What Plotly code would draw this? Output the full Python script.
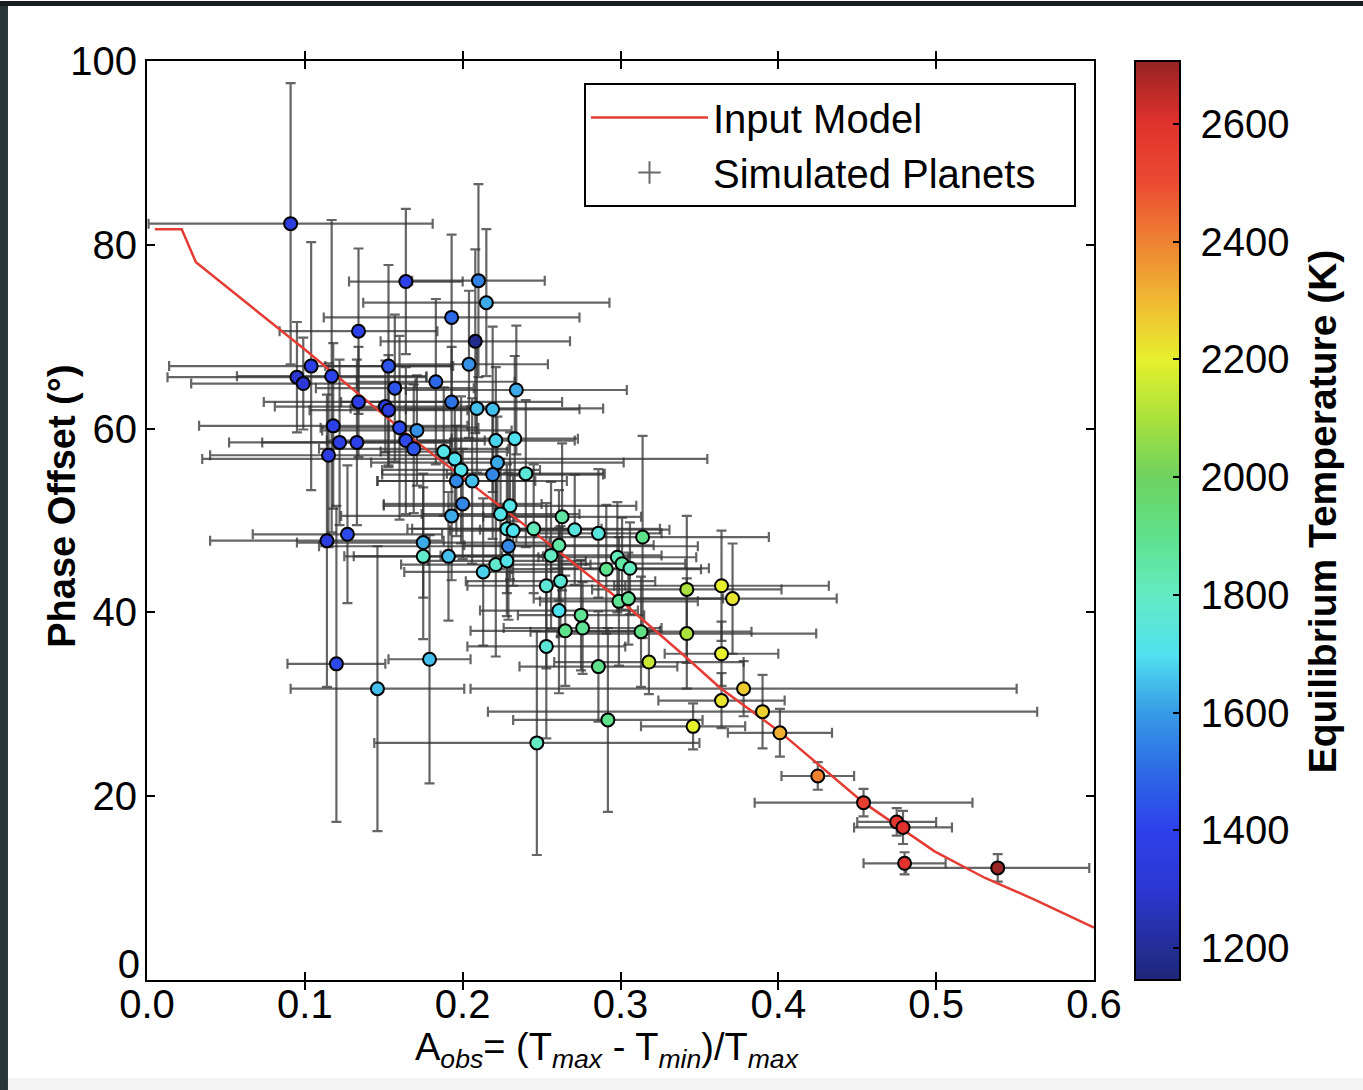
import plotly.graph_objects as go

# ---- data ----
a_obs = [0.091, 0.164, 0.210, 0.215, 0.193, 0.134, 0.208, 0.204, 0.104, 0.095,
         0.099, 0.117, 0.153, 0.157, 0.183, 0.234, 0.134, 0.151, 0.153, 0.193,
         0.209, 0.219, 0.118, 0.171, 0.160, 0.122, 0.133, 0.115, 0.164, 0.169,
         0.188, 0.195, 0.199, 0.196, 0.206, 0.221, 0.233, 0.222, 0.219, 0.240,
         0.200, 0.193, 0.230, 0.224, 0.228, 0.232, 0.229, 0.175, 0.175, 0.191,
         0.213, 0.221, 0.228, 0.245, 0.263, 0.271, 0.286, 0.314, 0.261, 0.256,
         0.298, 0.301, 0.306, 0.291, 0.253, 0.262, 0.342, 0.364, 0.299, 0.305,
         0.371, 0.261, 0.275, 0.276, 0.265, 0.313, 0.342, 0.253, 0.318, 0.364,
         0.286, 0.179, 0.120, 0.146, 0.378, 0.364, 0.390, 0.401, 0.292, 0.346,
         0.247, 0.425, 0.454, 0.475, 0.479, 0.480, 0.539, 0.114, 0.127]
phase = [82.3, 76.0, 76.1, 73.7, 72.1, 70.6, 69.5, 67.0, 66.8, 65.6,
         64.9, 65.7, 66.8, 64.4, 65.1, 64.2, 62.9, 62.4, 62.0, 62.9,
         62.2, 62.1, 60.3, 59.8, 60.1, 58.5, 58.5, 57.1, 58.7, 57.8,
         57.5, 56.7, 55.5, 54.3, 54.3, 58.7, 58.9, 56.3, 55.0, 55.1,
         51.8, 50.5, 51.6, 50.7, 49.1, 48.9, 47.2, 47.6, 46.1, 46.1,
         44.4, 45.2, 45.6, 49.1, 50.4, 49.0, 48.6, 48.2, 47.3, 46.2,
         46.0, 45.3, 44.8, 44.7, 42.9, 43.4, 42.5, 42.9, 41.2, 41.5,
         41.5, 40.2, 39.7, 38.3, 38.0, 37.9, 37.7, 36.3, 34.6, 35.5,
         34.1, 34.9, 34.4, 31.7, 31.7, 30.4, 29.2, 26.9, 28.3, 27.6,
         25.8, 22.2, 19.3, 17.2, 16.6, 12.7, 12.2, 47.8, 48.5]
a_err = [0.090, 0.036, 0.042, 0.078, 0.081, 0.050, 0.060, 0.050, 0.090, 0.082,
         0.071, 0.060, 0.040, 0.050, 0.050, 0.070, 0.060, 0.070, 0.050, 0.070,
         0.080, 0.055, 0.085, 0.060, 0.050, 0.070, 0.060, 0.075, 0.050, 0.060,
         0.040, 0.160, 0.050, 0.050, 0.060, 0.050, 0.040, 0.080, 0.070, 0.050,
         0.050, 0.070, 0.080, 0.050, 0.060, 0.040, 0.120, 0.080, 0.050, 0.060,
         0.050, 0.060, 0.050, 0.080, 0.050, 0.060, 0.040, 0.080, 0.060, 0.070,
         0.050, 0.040, 0.050, 0.060, 0.050, 0.060, 0.060, 0.068, 0.050, 0.060,
         0.066, 0.050, 0.040, 0.050, 0.060, 0.070, 0.082, 0.050, 0.060, 0.036,
         0.050, 0.026, 0.031, 0.055, 0.173, 0.040, 0.174, 0.033, 0.060, 0.033,
         0.103, 0.023, 0.069, 0.025, 0.031, 0.026, 0.058, 0.074, 0.060]
phase_err = [15.3, 7.9, 10.5, 8.0, 9.0, 9.0, 10.0, 8.0, 13.5, 6.0,
             5.0, 17.0, 11.0, 8.0, 9.0, 7.0, 6.0, 5.0, 6.0, 6.0,
             7.0, 9.0, 9.0, 6.0, 10.0, 9.0, 9.0, 10.0, 8.0, 7.0,
             7.0, 6.0, 8.0, 6.0, 9.0, 8.0, 9.0, 5.0, 7.0, 8.0,
             6.0, 7.0, 8.0, 6.0, 7.0, 6.0, 8.0, 6.0, 9.0, 7.0,
             8.0, 10.0, 6.0, 7.0, 8.0, 6.0, 7.0, 11.0, 6.0, 8.0,
             6.0, 5.0, 5.0, 7.0, 9.0, 6.0, 8.0, 6.0, 7.0, 5.0,
             6.0, 9.0, 6.0, 5.0, 6.0, 6.0, 6.0, 10.0, 3.5, 3.5,
             6.0, 13.5, 17.2, 15.5, 3.0, 3.0, 4.0, 2.6, 10.0, 2.5,
             12.2, 1.5, 1.5, 1.5, 1.8, 1.2, 1.5, 15.9, 7.5]
t_eq = [1350, 1400, 1550, 1620, 1500, 1400, 1180, 1580, 1380, 1300,
        1320, 1400, 1450, 1450, 1500, 1620, 1380, 1380, 1350, 1520,
        1650, 1650, 1400, 1580, 1420, 1380, 1380, 1350, 1420, 1450,
        1720, 1700, 1720, 1560, 1650, 1680, 1700, 1620, 1560, 1760,
        1560, 1620, 1720, 1720, 1720, 1700, 1560, 1620, 1780, 1650,
        1680, 1780, 1720, 1820, 1860, 1740, 1740, 1900, 1860, 1800,
        1820, 1860, 1800, 1900, 1760, 1760, 2100, 2200, 1880, 1880,
        2220, 1700, 1880, 1880, 1900, 1920, 2100, 1760, 2150, 2200,
        1900, 1650, 1420, 1650, 2270, 2220, 2260, 2320, 1900, 2200,
        1800, 2400, 2550, 2580, 2600, 2600, 2700, 1350, 1420]

model_a = [0.005, 0.022, 0.031, 0.10, 0.169, 0.262, 0.30, 0.341, 0.363, 0.401,
           0.454, 0.499, 0.531, 0.563, 0.60]
model_phase = [81.7, 81.7, 78.1, 68.6, 58.8, 46.5, 41.3, 35.2, 31.8, 27.0,
               19.3, 14.0, 11.1, 8.7, 5.7]

x_ticks = [0.0, 0.1, 0.2, 0.3, 0.4, 0.5, 0.6]
y_ticks = [20, 40, 60, 80, 100]
y_zero_tick = [0]
cbar_ticks = [1200, 1400, 1600, 1800, 2000, 2200, 2400, 2600]
t_min, t_max = 1146, 2707

jet_like = [[0.0, "rgb(30,40,120)"], [0.0346, "rgb(35,45,150)"],
            [0.0987, "rgb(45,55,210)"], [0.1627, "rgb(45,65,235)"],
            [0.2268, "rgb(45,105,230)"], [0.2908, "rgb(55,155,230)"],
            [0.3549, "rgb(80,225,240)"], [0.4190, "rgb(100,235,195)"],
            [0.4830, "rgb(95,225,140)"], [0.5471, "rgb(110,210,95)"],
            [0.6111, "rgb(170,225,60)"], [0.6752, "rgb(230,240,45)"],
            [0.7393, "rgb(240,185,50)"], [0.8033, "rgb(238,130,50)"],
            [0.8674, "rgb(235,75,50)"], [0.9315, "rgb(225,50,45)"],
            [1.0, "rgb(150,35,35)"]]

FONT = "Liberation Sans, Arial, sans-serif"
BAR_COLOR = "rgba(50,50,50,0.75)"
NB = "\u00a0"

fig = go.Figure()

# invisible trace that carries the overlaid axis used for the "0" tick label
fig.add_trace(go.Scatter(x=[0.3], y=[50], yaxis="y2", mode="markers",
                         marker=dict(size=1, opacity=0), showlegend=False,
                         hoverinfo="skip"))

# error bars
fig.add_trace(go.Scatter(
    x=a_obs, y=phase, mode="markers", showlegend=False, hoverinfo="skip",
    marker=dict(size=2, opacity=0),
    error_x=dict(type="data", array=a_err, color=BAR_COLOR, thickness=2.2, width=5),
    error_y=dict(type="data", array=phase_err, color=BAR_COLOR, thickness=2.2, width=5),
))

# model line
fig.add_trace(go.Scatter(
    x=model_a, y=model_phase, mode="lines", name="Input Model",
    line=dict(color="rgb(228,60,52)", width=2.5), legendrank=1,
))

# legend entry for simulated planets
fig.add_trace(go.Scatter(
    x=[None], y=[None], mode="markers", name="Simulated Planets" + NB * 3,
    marker=dict(symbol="cross-thin-open", size=26, color="rgba(90,90,90,0.9)",
                line=dict(width=2, color="rgba(90,90,90,0.9)")),
    legendrank=2,
))

# coloured planets
fig.add_trace(go.Scatter(
    x=a_obs, y=phase, mode="markers", showlegend=False,
    marker=dict(size=13, color=t_eq, colorscale=jet_like, cmin=t_min, cmax=t_max,
                line=dict(color="black", width=2),
                colorbar=dict(
                    x=1.0433, xanchor="left", xpad=0, y=0.5, yanchor="middle",
                    len=1, lenmode="fraction", ypad=0, thickness=45,
                    outlinecolor="black", outlinewidth=2,
                    tickvals=cbar_ticks, ticktext=[NB + str(t) for t in cbar_ticks],
                    ticks="inside", ticklen=8,
                    tickcolor="black", tickwidth=1.5,
                    tickfont=dict(family=FONT, size=40, color="black"),
                )),
))

fig.update_layout(
    width=1363, height=1090, autosize=False,
    margin=dict(l=147, r=269, t=61, b=110),
    paper_bgcolor="white", plot_bgcolor="white",
    font=dict(family=FONT, color="black"),
    showlegend=True,
    legend=dict(x=0.981, xanchor="right", y=0.976, yanchor="top",
                bgcolor="white", bordercolor="black", borderwidth=2,
                font=dict(family=FONT, size=40, color="black"),
                itemwidth=117, tracegroupgap=0),
    xaxis=dict(range=[0, 0.6], tickvals=x_ticks, tickformat=".1f",
               ticks="inside", ticklen=8, tickwidth=1.5, tickcolor="black",
               showline=True, linecolor="black", linewidth=2, mirror="allticks",
               showgrid=False, zeroline=False, ticklabelstandoff=-12,
               tickfont=dict(family=FONT, size=40, color="black")),
    yaxis=dict(range=[0, 100], tickvals=y_ticks,
               ticks="inside", ticklen=8, tickwidth=1.5, tickcolor="black",
               showline=True, linecolor="black", linewidth=2, mirror="allticks",
               showgrid=False, zeroline=False,
               tickfont=dict(family=FONT, size=40, color="black")),
    yaxis2=dict(range=[0, 100], overlaying="y", side="left", tickvals=y_zero_tick,
                ticks="", showline=False, showgrid=False, zeroline=False,
                ticklabelshift=-16, ticklabelstandoff=6, showticklabels=True,
                tickfont=dict(family=FONT, size=40, color="black")),
    annotations=[
        dict(text="A<sub><i>obs</i></sub>= (T<sub><i>max</i></sub> - T<sub><i>min</i></sub>)/T<sub><i>max</i></sub>",
             xref="paper", yref="paper", x=0.486, y=-0.076, xanchor="center", yanchor="middle",
             showarrow=False, font=dict(family=FONT, size=38, color="black")),
        dict(text="<b>Phase Offset (°)</b>", textangle=-90,
             xref="paper", yref="paper", x=-0.0898, y=0.516, xanchor="center", yanchor="middle",
             showarrow=False, font=dict(family=FONT, size=38, color="black")),
        dict(text="<b>Equilibrium Temperature (K)</b>", textangle=-90,
             xref="paper", yref="paper", x=1.2408, y=0.51, xanchor="center", yanchor="middle",
             showarrow=False, font=dict(family=FONT, size=39, color="black")),
    ],
    shapes=[
        dict(type="rect", xref="paper", yref="paper", x0=-0.1553, x1=-0.1468,
             y0=-0.1196, y1=1.0652, fillcolor="rgb(40,54,56)", line=dict(width=0), layer="below"),
        dict(type="rect", xref="paper", yref="paper", x0=-0.1553, x1=1.2841,
             y0=1.0598, y1=1.0652, fillcolor="rgb(22,30,34)", line=dict(width=0), layer="below"),
        dict(type="rect", xref="paper", yref="paper", x0=-0.1468, x1=1.2841,
             y0=-0.1196, y1=-0.1065, fillcolor="rgb(243,243,243)", line=dict(width=0), layer="below"),
    ],
)

fig.write_html("out.html")
